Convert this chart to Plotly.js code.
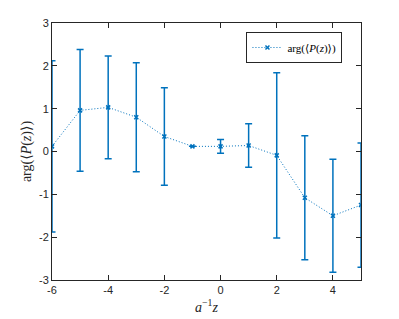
<!DOCTYPE html>
<html>
<head>
<meta charset="utf-8">
<script src="https://cdn.plot.ly/plotly-3.0.1.min.js"></script>
<style>html,body{margin:0;padding:0;background:#fff;}</style>
</head>
<body>
<div id="chart" style="width:399px;height:319px;"></div>
<script>
const xValues = [-6, -5, -4, -3, -2, -1, 0, 1, 2, 3, 4, 5];
const argValues = [0.12, 0.96, 1.03, 0.80, 0.35, 0.12, 0.12, 0.14, -0.09, -1.08, -1.50, -1.25];
const errValues = [2.0, 1.42, 1.2, 1.27, 1.14, 0.0, 0.16, 0.51, 1.93, 1.45, 1.32, 1.45];
const seriesName = 'arg(⟨<i>P</i>(<i>z</i>)⟩)';
const xTitle = '<i>a</i><sup>−1</sup><i>z</i>';
const yTitle = 'arg(⟨<i>P</i>(<i>z</i>)⟩)';

const blue = '#0072BD';
const axisColor = '#262626';
const serif = 'Liberation Serif, DejaVu Serif, serif';

const trace = {
  x: xValues,
  y: argValues,
  type: 'scatter',
  mode: 'lines+markers',
  name: seriesName,
  line: {color: blue, width: 1, dash: '1px,2px'},
  marker: {symbol: 'x-thin', size: 4, color: blue, line: {width: 1.5, color: blue}},
  error_y: {type: 'data', array: errValues, visible: true, color: blue, thickness: 1.5, width: 3.5}
};

const axisCommon = {
  showgrid: false,
  zeroline: false,
  showline: true,
  linecolor: axisColor,
  linewidth: 1,
  mirror: 'ticks',
  ticks: 'inside',
  ticklen: 5,
  tickcolor: axisColor,
  tickfont: {family: 'Liberation Sans, Arial, sans-serif', size: 11, color: axisColor}
};

const layout = {
  width: 399,
  height: 319,
  margin: {l: 52, r: 38, t: 23, b: 39},
  paper_bgcolor: '#fff',
  plot_bgcolor: '#fff',
  showlegend: true,
  legend: {
    x: 0.94, xanchor: 'right', y: 0.965, yanchor: 'top',
    bordercolor: axisColor, borderwidth: 1, bgcolor: '#fff',
    font: {family: serif, size: 11, color: '#000'},
    itemwidth: 30, tracegroupgap: 0
  },
  xaxis: Object.assign({}, axisCommon, {
    range: [-6, 5], tickmode: 'array', tickvals: [-6, -4, -2, 0, 2, 4], ticktext: ['-6', '-4', '-2', '0', '2', '4'],
    title: {text: xTitle, font: {family: serif, size: 14, color: axisColor}, standoff: 6}
  }),
  yaxis: Object.assign({}, axisCommon, {
    range: [-3, 3], tickmode: 'array', tickvals: [-3, -2, -1, 0, 1, 2, 3], ticktext: ['-3', '-2', '-1', '0', '1', '2', '3'],
    title: {text: yTitle, font: {family: serif, size: 14, color: axisColor}, standoff: 4}
  })
};

Plotly.newPlot('chart', [trace], layout, {displayModeBar: false, staticPlot: true});
</script>
</body>
</html>
